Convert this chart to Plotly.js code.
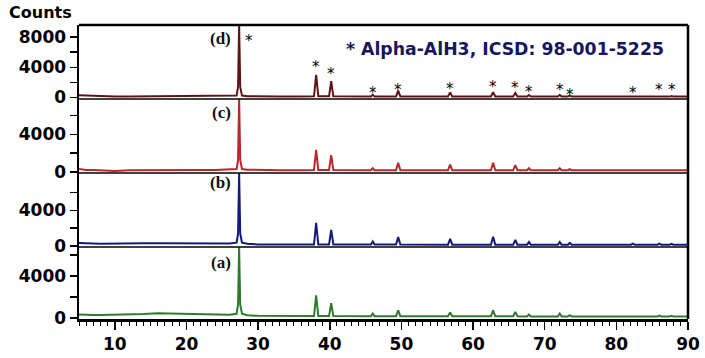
<!DOCTYPE html>
<html>
<head>
<meta charset="utf-8">
<script src="https://cdn.plot.ly/plotly-3.0.1.min.js"></script>
<style>html,body{margin:0;padding:0;background:#fff;}#chart{width:705px;height:358px;}</style>
</head>
<body>
<div id="chart"></div>
<script>
// 2-theta (degrees) sample points
const twoTheta = [5, 5.5, 6, 7, 8, 10, 12, 14, 16, 18, 20, 22, 24, 26,
  27.0, 27.2, 27.35, 27.5, 27.75, 28.5, 30, 33, 36,
  37.8, 38.1, 38.4, 39.9, 40.2, 40.5, 43,
  45.75, 46.0, 46.25, 49.25, 49.55, 49.85, 53,
  56.5, 56.8, 57.1, 60, 62.5, 62.8, 63.1,
  65.6, 65.9, 66.2, 67.55, 67.8, 68.05, 70,
  71.85, 72.1, 72.35, 73.25, 73.5, 73.75, 78,
  82.05, 82.3, 82.55, 85.75, 86.0, 86.25, 87.45, 87.7, 87.95, 90];

// counts for each sample
const countsD = [300, 280, 250, 180, 150, 130, 120, 140, 150, 140, 130, 140, 150, 170,
  250, 1400, 9600, 1400, 250, 180, 140, 130, 130,
  150, 3000, 150, 150, 2150, 150, 130,
  130, 350, 130, 140, 900, 140, 130,
  140, 650, 140, 130, 140, 700, 140,
  140, 600, 140, 130, 330, 130, 130,
  130, 350, 130, 130, 250, 130, 120,
  120, 200, 120, 120, 200, 120, 120, 200, 120, 120];

const countsC = [320, 260, 230, 220, 210, 120, 200, 220, 240, 230, 220, 230, 220, 240,
  320, 1300, 7750, 1300, 320, 250, 210, 200, 200,
  210, 2350, 210, 210, 1800, 210, 200,
  200, 400, 200, 200, 1000, 200, 200,
  200, 800, 200, 200, 200, 1000, 200,
  200, 750, 200, 200, 400, 200, 200,
  200, 400, 200, 200, 300, 200, 200,
  200, 260, 200, 200, 260, 200, 200, 260, 200, 200];

const countsB = [350, 320, 300, 280, 260, 250, 260, 300, 320, 310, 290, 280, 270, 290,
  380, 1400, 8200, 1400, 380, 250, 180, 160, 160,
  170, 2600, 170, 170, 1800, 170, 160,
  160, 500, 160, 160, 1000, 160, 150,
  150, 800, 150, 150, 150, 1050, 150,
  150, 700, 150, 150, 450, 150, 150,
  150, 450, 150, 150, 350, 150, 150,
  150, 260, 150, 150, 260, 150, 150, 250, 150, 150];

const countsA = [320, 300, 290, 280, 280, 290, 300, 380, 450, 430, 400, 340, 300, 310,
  400, 1300, 6750, 1300, 400, 250, 200, 180, 180,
  180, 2150, 180, 180, 1400, 180, 170,
  170, 420, 170, 170, 720, 170, 160,
  160, 520, 160, 160, 160, 720, 160,
  160, 560, 160, 150, 340, 150, 150,
  150, 420, 150, 150, 270, 150, 150,
  150, 200, 150, 150, 230, 150, 150, 200, 150, 150];

// reference-phase markers (2-theta) and their label heights in panel (d) counts
const starPos   = [28.7, 38.1, 40.2, 46.0, 49.55, 56.8, 62.8, 65.9, 67.8, 72.1, 73.5, 82.3, 86.0, 87.7];
const starLevel = [8000, 4570, 3640, 1130, 1520, 1660, 1920, 1790, 1260, 1520, 860, 1130, 1520, 1520];

const panelLabels = ['(a)', '(b)', '(c)', '(d)'];
const seriesColors = ['#2e7a2e', '#121a7e', '#b8282b', '#5e1414'];
const yTickValsTop = [0, 2000, 4000, 6000, 8000];
const yTickTextTop = ['0', '', '4000', '', '8000'];
const yTickValsLow = [0, 2000, 4000, 6000];
const yTickTextLow = ['0', '', '4000', ''];
const legendText = '* Alpha-AlH3, ICSD: 98-001-5225';
const yAxisTitle = 'Counts';

const series = [countsA, countsB, countsC, countsD];
const axisIds = ['y', 'y2', 'y3', 'y4'];
const traces = series.map((ys, i) => ({
  x: twoTheta, y: ys, type: 'scatter', mode: 'lines', yaxis: axisIds[i],
  line: {color: seriesColors[i], width: 2}, hoverinfo: 'skip'
}));

const font = 'DejaVu Sans, Verdana, sans-serif';
const tickFont = {family: font, size: 17, color: '#000', weight: 'bold'};
const bounds = [0, 0.2449, 0.4966, 0.7483, 1];
const ranges = [[-100, 6770], [-110, 8200], [-100, 7770], [-200, 9600]];

function yAxis(i) {
  const top = i === 3;
  return {
    domain: [bounds[i], bounds[i + 1]], range: ranges[i], anchor: 'x',
    tickvals: top ? yTickValsTop : yTickValsLow, ticktext: top ? yTickTextTop : yTickTextLow,
    ticks: 'outside', ticklen: 7,
    tickwidth: 1.5, tickcolor: '#000', showline: true, linewidth: 2.5, linecolor: '#000',
    showgrid: false, zeroline: false, tickfont: tickFont, fixedrange: true
  };
}

const shapes = [];
[bounds[1], bounds[2], bounds[3]].forEach(b => shapes.push({
  type: 'line', xref: 'paper', yref: 'paper', x0: 0, x1: 1, y0: b, y1: b,
  line: {color: '#000', width: 1.5}
}));
shapes.push({type: 'line', xref: 'paper', yref: 'paper', x0: 0, x1: 1, y0: 1, y1: 1, line: {color: '#000', width: 2.5}});
shapes.push({type: 'line', xref: 'paper', yref: 'paper', x0: 1, x1: 1, y0: 0, y1: 1, line: {color: '#000', width: 2.5}});

const labelY = [0.1915, 0.4626, 0.702, 0.954];
const annotations = panelLabels.map((t, i) => ({
  text: t, xref: 'x', yref: 'paper', x: 26.5, y: labelY[i], xanchor: 'right', yanchor: 'middle',
  showarrow: false, font: {family: 'Liberation Serif, Times New Roman, serif', size: 17, color: '#111', weight: 'bold'}
}));
starPos.forEach((p, i) => annotations.push({
  text: '*', xref: 'x', yref: 'y4', x: p, y: starLevel[i], xanchor: 'center', yanchor: 'middle',
  yshift: -4, showarrow: false, font: {family: font, size: 15, color: '#000'}
}));
annotations.push({
  text: yAxisTitle, xref: 'paper', yref: 'paper', x: -0.118, y: 1.0425, xanchor: 'left', yanchor: 'middle',
  showarrow: false, font: {family: font, size: 16, color: '#000', weight: 'bold'}
});
annotations.push({
  text: legendText, xref: 'paper', yref: 'paper', x: 0.6995, y: 0.9167, xanchor: 'center', yanchor: 'middle',
  showarrow: false, font: {family: font, size: 17.3, color: '#16165a', weight: 'bold'}
});

const layout = {
  width: 705, height: 358,
  margin: {l: 79, r: 17, t: 25, b: 39, pad: 0},
  paper_bgcolor: '#fff', plot_bgcolor: '#fff', showlegend: false,
  xaxis: {
    range: [5, 90], anchor: 'y', dtick: 10, tick0: 0, ticks: 'outside', ticklen: 8, tickwidth: 1.5,
    tickcolor: '#000', showline: true, linewidth: 2.5, linecolor: '#000', showgrid: false, zeroline: false,
    tickfont: tickFont, fixedrange: true,
    minor: {dtick: 1, ticks: 'outside', ticklen: 4, tickwidth: 1, tickcolor: '#000', showgrid: false}
  },
  yaxis: yAxis(0), yaxis2: yAxis(1), yaxis3: yAxis(2), yaxis4: yAxis(3),
  shapes: shapes, annotations: annotations
};

Plotly.newPlot('chart', traces, layout, {staticPlot: true, displayModeBar: false});
</script>
</body>
</html>
